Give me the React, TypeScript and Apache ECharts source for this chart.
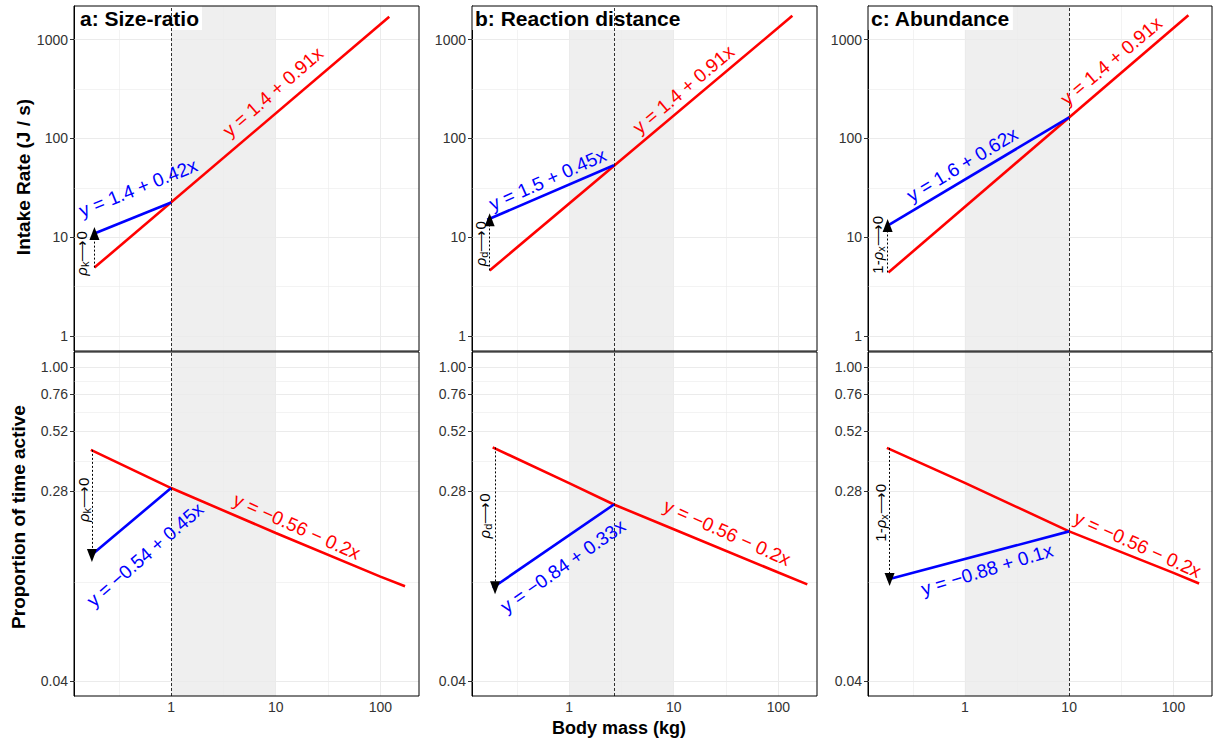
import React, { useEffect, useRef } from "react";
import * as echarts from "echarts";

const FONT = "'Liberation Sans', Arial, Helvetica, sans-serif";

// ---- axes / ticks ----
const xTicks = [1, 10, 100];
const xMinor = [0.316, 3.16, 31.6];
const yTopTicks = [1, 10, 100, 1000];
const yTopMinor = [3.16, 31.6, 316];
const yBotTicks = [0.04, 0.28, 0.52, 0.76, 1.0];
const yBotMinor = [0.106, 0.382, 0.629, 0.872];
const shadeRange = [1, 10];
const breakpoints = [1, 2.68, 10];
const panelTitles = ["a: Size-ratio", "b: Reaction distance", "c: Abundance"];

// ---- series values: [body mass (kg), value] ----
// Intake rate (J / s)
const redTopA = [[0.185, 4.92], [121.6, 1698]];
const blueTopA = [[0.185, 10.9], [1, 22.4]];
const redTopB = [[0.174, 4.6], [136, 1737]];
const blueTopB = [[0.165, 15.0], [2.68, 53.4]];
const redTopC = [[0.185, 4.39], [139, 1763]];
const blueTopC = [[0.182, 13.1], [10, 163]];
// Proportion of time active
const redBotA = [[0.171, 0.429], [1, 0.29], [10, 0.183], [100, 0.117], [172, 0.106]];
const blueBotA = [[0.171, 0.1453], [1, 0.29]];
const redBotB = [[0.186, 0.44], [1, 0.305], [2.68, 0.245], [10, 0.19], [100, 0.122], [189, 0.108]];
const blueBotB = [[0.186, 0.1044], [2.68, 0.245]];
const redBotC = [[0.179, 0.4377], [1, 0.306], [10, 0.186], [100, 0.1215], [176, 0.109]];
const blueBotC = [[0.182, 0.1135], [10, 0.186]];

// arrows: [x, from, to]
const arrowTopA = [0.185, 4.92, 10.9];
const arrowTopB = [0.174, 4.6, 15.0];
const arrowTopC = [0.182, 4.39, 13.1];
const arrowBotA = [0.175, 0.429, 0.1453];
const arrowBotB = [0.196, 0.44, 0.1044];
const arrowBotC = [0.19, 0.4377, 0.1135];

// equation texts
const redTopEq = ["y = 1.4 + 0.91x", "y = 1.4 + 0.91x", "y = 1.4 + 0.91x"];
const blueTopEq = ["y = 1.4 + 0.42x", "y = 1.5 + 0.45x", "y = 1.6 + 0.62x"];
const redBotEq = ["y = \u22120.56 \u2212 0.2x", "y = \u22120.56 \u2212 0.2x", "y = \u22120.56 \u2212 0.2x"];
const blueBotEq = ["y = \u22120.54 + 0.45x", "y = \u22120.84 + 0.33x", "y = \u22120.88 + 0.1x"];
const arrowPre = ["", "", "1-"];
const arrowSub = ["k", "d", "x"];

// annotation anchors (data coords) and angles
const redTopAt = [[9.4, 296], [12.4, 313], [25.3, 607]];
const redTopRot = [41, 40, 40];
const blueTopAt = [[0.484, 31.5], [0.622, 38.3], [0.945, 54.3]];
const blueTopRot = [22, 24, 31];
const arrowTopAt = [[0.14, 6.84], [0.1425, 8.58], [0.144, 8.38]];
const redBotAt = [[15.9, 0.1956], [32.3, 0.1837], [45.4, 0.1625]];
const redBotRot = [-24, -24, -24];
const blueBotAt = [[0.565, 0.1464], [0.872, 0.1303], [1.63, 0.1257]];
const blueBotRot = [41, 35, 17];
const arrowBotAt = [[0.145, 0.257], [0.1545, 0.218], [0.1538, 0.225]];

const RED = "#ff0000";
const BLUE = "#0000ff";
const GRID_COL = "#ebebeb";

const lefts = [74, 472, 868];
const widths = [345, 345, 344];

function fmt(v: number) {
  return String(Math.round(v * 1000) / 1000);
}

export default function App() {
  const ref = useRef<HTMLDivElement>(null);

  useEffect(() => {
    if (!ref.current) return;
    const chart = echarts.init(ref.current, undefined, { renderer: "svg" });

    const grids: any[] = [];
    const xAxes: any[] = [];
    const yAxes: any[] = [];
    const series: any[] = [];

    const reds = [redTopA, redTopB, redTopC, redBotA, redBotB, redBotC];
    const blues = [blueTopA, blueTopB, blueTopC, blueBotA, blueBotB, blueBotC];
    const arrows = [arrowTopA, arrowTopB, arrowTopC, arrowBotA, arrowBotB, arrowBotC];

    for (let i = 0; i < 6; i++) {
      const col = i % 3;
      const bottom = i >= 3;
      grids.push({
        show: true,
        z: 4,
        left: lefts[col],
        width: widths[col],
        top: bottom ? 352 : 6,
        height: bottom ? 344 : 345,
        borderColor: "#000",
        borderWidth: 1,
        backgroundColor: "transparent",
      });
      xAxes.push({
        type: "log",
        logBase: 10,
        gridIndex: i,
        min: 0.118,
        max: 234,
        axisLine: { show: false },
        axisTick: { show: false },
        splitLine: { show: false },
        axisLabel: bottom
          ? {
              show: true,
              customValues: xTicks,
              formatter: fmt,
              color: "#333",
              fontSize: 14,
              fontFamily: FONT,
              margin: 4,
            }
          : { show: false },
      });
      const yt = bottom ? yBotTicks : yTopTicks;
      yAxes.push({
        type: "log",
        logBase: 10,
        gridIndex: i,
        min: bottom ? 0.0344 : 0.705,
        max: bottom ? 1.17 : 2183,
        axisLine: { show: true, lineStyle: { color: "#000", width: 1 } },
        axisTick: { show: true, customValues: yt, length: 4, lineStyle: { color: "#333" } },
        splitLine: { show: false },
        axisLabel: {
          show: true,
          customValues: yt,
          formatter: bottom ? (v: number) => v.toFixed(2) : fmt,
          color: "#333",
          fontSize: 14,
          fontFamily: FONT,
          margin: 6,
        },
      });

      const ymaj = bottom ? yBotTicks : yTopTicks;
      const ymin = bottom ? yBotMinor : yTopMinor;
      const gridLines = [
        ...xTicks.map((v) => ({ xAxis: v, lineStyle: { color: GRID_COL, width: 1, type: "solid" } })),
        ...xMinor.map((v) => ({ xAxis: v, lineStyle: { color: GRID_COL, width: 0.6, type: "solid" } })),
        ...ymaj.map((v) => ({ yAxis: v, lineStyle: { color: GRID_COL, width: 1, type: "solid" } })),
        ...ymin.map((v) => ({ yAxis: v, lineStyle: { color: GRID_COL, width: 0.6, type: "solid" } })),
      ];

      const redAt = bottom ? redBotAt[col] : redTopAt[col];
      const redRot = bottom ? redBotRot[col] : redTopRot[col];
      const redTxt = bottom ? redBotEq[col] : redTopEq[col];
      const blueAt = bottom ? blueBotAt[col] : blueTopAt[col];
      const blueRot = bottom ? blueBotRot[col] : blueTopRot[col];
      const blueTxt = bottom ? blueBotEq[col] : blueTopEq[col];
      const arrAt = bottom ? arrowBotAt[col] : arrowTopAt[col];
      const arr = arrows[i];

      series.push({
        type: "line",
        xAxisIndex: i,
        yAxisIndex: i,
        data: reds[i],
        symbol: "none",
        z: 3,
        lineStyle: { color: RED, width: 2.6 },
        itemStyle: { color: RED },
        silent: true,
        markArea: {
          silent: true,
          z: 0.5,
          itemStyle: { color: "#efefef" },
          label: { show: false },
          data: [[{ xAxis: shadeRange[0] }, { xAxis: shadeRange[1] }]],
        },
        markLine: {
          silent: true,
          z: 1,
          symbol: "none",
          label: { show: false },
          lineStyle: { type: "solid" },
          data: gridLines,
        },
        markPoint: {
          silent: true,
          symbol: "circle",
          symbolSize: 1,
          itemStyle: { color: "rgba(0,0,0,0)" },
          data: [
            {
              coord: redAt,
              label: {
                show: true,
                position: "inside",
                formatter: redTxt,
                rotate: redRot,
                color: RED,
                fontSize: 19,
                fontFamily: FONT,
              },
            },
          ],
        },
      });

      series.push({
        type: "line",
        xAxisIndex: i,
        yAxisIndex: i,
        data: blues[i],
        symbol: "none",
        z: 3,
        lineStyle: { color: BLUE, width: 2.6 },
        itemStyle: { color: BLUE },
        silent: true,
        markLine: {
          silent: true,
          z: 5,
          symbol: "none",
          label: { show: false },
          data: [
            { xAxis: breakpoints[col], lineStyle: { color: "#000", width: 0.8, type: [3, 2] } },
            [
              { coord: [arr[0], arr[1]], symbol: "none", lineStyle: { color: "#000", width: 1, type: [2, 2] } },
              { coord: [arr[0], arr[2]], symbol: "triangle", symbolSize: [10, 13] },
            ],
          ],
        },
        markPoint: {
          silent: true,
          symbol: "circle",
          symbolSize: 1,
          itemStyle: { color: "rgba(0,0,0,0)" },
          data: [
            {
              coord: blueAt,
              label: {
                show: true,
                position: "inside",
                formatter: blueTxt,
                rotate: blueRot,
                color: BLUE,
                fontSize: 19,
                fontFamily: FONT,
              },
            },
            {
              coord: arrAt,
              label: {
                show: true,
                position: "inside",
                rotate: 90,
                formatter: `{n|${arrowPre[col]}}{r|\u03c1}{s|${arrowSub[col]}}{n|\u27f60}`,
                color: "#000",
                rich: {
                  n: { fontSize: 15, color: "#000", fontFamily: FONT, lineHeight: 18, verticalAlign: "middle" },
                  r: { fontSize: 15, color: "#000", fontFamily: FONT, fontStyle: "italic", lineHeight: 18, verticalAlign: "middle" },
                  s: { fontSize: 11, color: "#000", fontFamily: FONT, lineHeight: 11, verticalAlign: "bottom" },
                },
              },
            },
          ],
        },
      });
    }

    const graphic: any[] = [];
    const titleLefts = [80, 475, 871];
    panelTitles.forEach((t, k) => {
      graphic.push({
        type: "text",
        z: 3,
        x: titleLefts[k] - 3,
        y: 18,
        style: {
          text: t,
          fontSize: 21,
          fontWeight: "bold",
          fontFamily: FONT,
          fill: "#000",
          align: "left",
          verticalAlign: "middle",
          backgroundColor: "#fff",
          padding: [2, 3, 1, 3],
        },
      });
    });
    graphic.push({
      type: "text",
      x: 23,
      y: 177,
      rotation: Math.PI / 2,
      style: {
        text: "Intake Rate (J / s)",
        fontSize: 19,
        fontWeight: "bold",
        fontFamily: FONT,
        fill: "#000",
        align: "center",
        verticalAlign: "middle",
      },
    });
    graphic.push({
      type: "text",
      x: 18,
      y: 517,
      rotation: Math.PI / 2,
      style: {
        text: "Proportion of time active",
        fontSize: 19,
        fontWeight: "bold",
        fontFamily: FONT,
        fill: "#000",
        align: "center",
        verticalAlign: "middle",
      },
    });
    graphic.push({
      type: "text",
      x: 619,
      y: 728,
      style: {
        text: "Body mass (kg)",
        fontSize: 18,
        fontWeight: "bold",
        fontFamily: FONT,
        fill: "#000",
        align: "center",
        verticalAlign: "middle",
      },
    });

    chart.setOption({
      animation: false,
      backgroundColor: "#fff",
      textStyle: { fontFamily: FONT },
      grid: grids,
      xAxis: xAxes,
      yAxis: yAxes,
      series,
      graphic,
    });

    return () => chart.dispose();
  }, []);

  return (
    <div
      ref={ref}
      style={{ position: "fixed", left: 0, top: 0, width: 1213, height: 740, background: "#fff" }}
    />
  );
}
